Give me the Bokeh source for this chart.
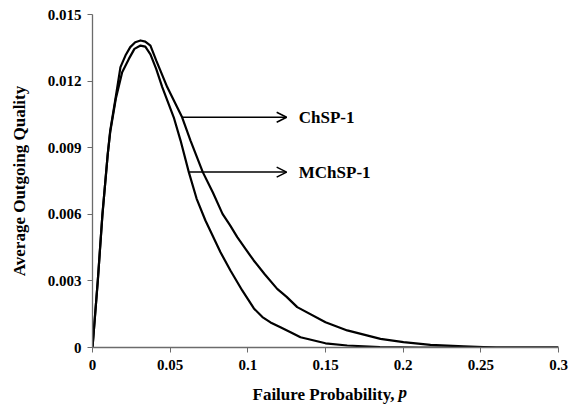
from bokeh.plotting import figure
from bokeh.models import Arrow, OpenHead, Label, FixedTicker
from bokeh.embed import file_html
from bokeh.resources import INLINE

# ---- data ----
p_chsp = [0, 0.0034, 0.0064, 0.0098, 0.0114, 0.0150, 0.0180, 0.0212, 0.0243, 0.0275,
          0.0309, 0.0340, 0.0373, 0.0410, 0.0481, 0.0577, 0.0631, 0.0710, 0.0775, 0.0837,
          0.0885, 0.0932, 0.0985, 0.1038, 0.1110, 0.1189, 0.1250, 0.1318, 0.150, 0.164,
          0.1854, 0.2002, 0.2176, 0.239, 0.26, 0.30]
aoq_chsp = [0, 0.0030, 0.0060, 0.0087, 0.00977, 0.0113, 0.01263, 0.01315, 0.01353, 0.01375,
            0.01383, 0.01378, 0.01360, 0.01293, 0.01173, 0.01037, 0.00932, 0.00790, 0.00698, 0.00602,
            0.00551, 0.00497, 0.00444, 0.00392, 0.00329, 0.00264, 0.00228, 0.00182, 0.00114, 0.00077,
            0.00039, 0.00024, 0.00012, 0.00005, 0.0, 0.0]

p_mchsp = [0, 0.0034, 0.0064, 0.0098, 0.0114, 0.0150, 0.0191, 0.0234, 0.0270, 0.0309,
           0.0340, 0.0373, 0.0410, 0.0449, 0.0523, 0.0567, 0.0620, 0.0670, 0.0727, 0.0824,
           0.0888, 0.0964, 0.1039, 0.1094, 0.1146, 0.1210, 0.1275, 0.1339, 0.150, 0.164,
           0.185, 0.21, 0.30]
aoq_mchsp = [0, 0.0030, 0.0060, 0.0087, 0.0097, 0.0112, 0.0124, 0.0130, 0.01345, 0.0136,
             0.01355, 0.01320, 0.01255, 0.01173, 0.01037, 0.00932, 0.00790, 0.00671, 0.00572, 0.00429,
             0.00347, 0.00257, 0.00176, 0.00137, 0.00113, 0.00091, 0.00069, 0.00046, 0.00019, 0.00009,
             0.00002, 0.0, 0.0]

series_names = ["ChSP-1", "MChSP-1"]
arrow_start_x = [0.0577, 0.0620]
arrow_start_y = [0.01037, 0.00790]
arrow_end_x = 0.1250
label_x = 0.1328

x_ticks = [0, 0.05, 0.1, 0.15, 0.2, 0.25, 0.3]
x_tick_labels = ["0", "0.05", "0.1", "0.15", "0.2", "0.25", "0.3"]
y_ticks = [0, 0.003, 0.006, 0.009, 0.012, 0.015]
y_tick_labels = ["0", "0.003", "0.006", "0.009", "0.012", "0.015"]

x_title_main = "Failure Probability,"
x_title_var = "p"
y_title = "Average Outgoing Quality"

FONT = "Liberation Serif"

p = figure(width=572, height=414, x_range=(0, 0.3), y_range=(0, 0.015),
           output_backend="svg", toolbar_location=None,
           min_border_left=92, min_border_right=14, min_border_top=14, min_border_bottom=67)
p.outline_line_color = None
p.xgrid.visible = False
p.ygrid.visible = False

p.line(p_chsp, aoq_chsp, line_color="black", line_width=2.2, line_join="round")
p.line(p_mchsp, aoq_mchsp, line_color="black", line_width=2.2, line_join="round")

for name, sx, sy in zip(series_names, arrow_start_x, arrow_start_y):
    p.add_layout(Arrow(end=OpenHead(size=10, line_width=1.5, line_color="black"),
                       x_start=sx, y_start=sy, x_end=arrow_end_x, y_end=sy,
                       line_width=1.5, line_color="black"))
    p.add_layout(Label(x=label_x, y=sy, text=name, text_font=FONT, text_font_size="17px",
                       text_font_style="bold", text_baseline="middle", text_align="left",
                       text_color="black"))

for ax, ticks, labels in ((p.xaxis, x_ticks, x_tick_labels), (p.yaxis, y_ticks, y_tick_labels)):
    ax.ticker = FixedTicker(ticks=ticks)
    ax.major_label_overrides = {t: l for t, l in zip(ticks, labels)}
    ax.minor_tick_line_color = None
    ax.major_tick_in = 0
    ax.major_tick_out = 5
    ax.axis_line_color = "#6b6b6b"
    ax.major_tick_line_color = "#6b6b6b"
    ax.axis_line_width = 1.3
    ax.major_label_text_font = FONT
    ax.major_label_text_font_size = "15px"
    ax.major_label_text_font_style = "bold"
    ax.major_label_text_color = "black"
    ax.axis_label_text_font = FONT
    ax.axis_label_text_font_size = "17px"
    ax.axis_label_text_font_style = "bold"
    ax.axis_label_text_color = "black"

p.xaxis.major_label_standoff = 7
p.yaxis.major_label_standoff = 6
p.yaxis.axis_label = y_title
p.yaxis.axis_label_standoff = 16

# x-axis title: upright part + italic variable, in panels below the axis
p.add_layout(Label(x=302, y=-3, x_units="screen", y_units="screen", text=x_title_main,
                   text_font=FONT, text_font_size="17px", text_font_style="bold",
                   text_align="right", text_baseline="middle", text_color="black"), "below")
p.add_layout(Label(x=306, y=18, x_units="screen", y_units="screen", text=x_title_var,
                   text_font=FONT, text_font_size="17px", text_font_style="bold italic",
                   text_align="left", text_baseline="middle", text_color="black"), "below")

open("out.html", "w").write(file_html(p, INLINE))
